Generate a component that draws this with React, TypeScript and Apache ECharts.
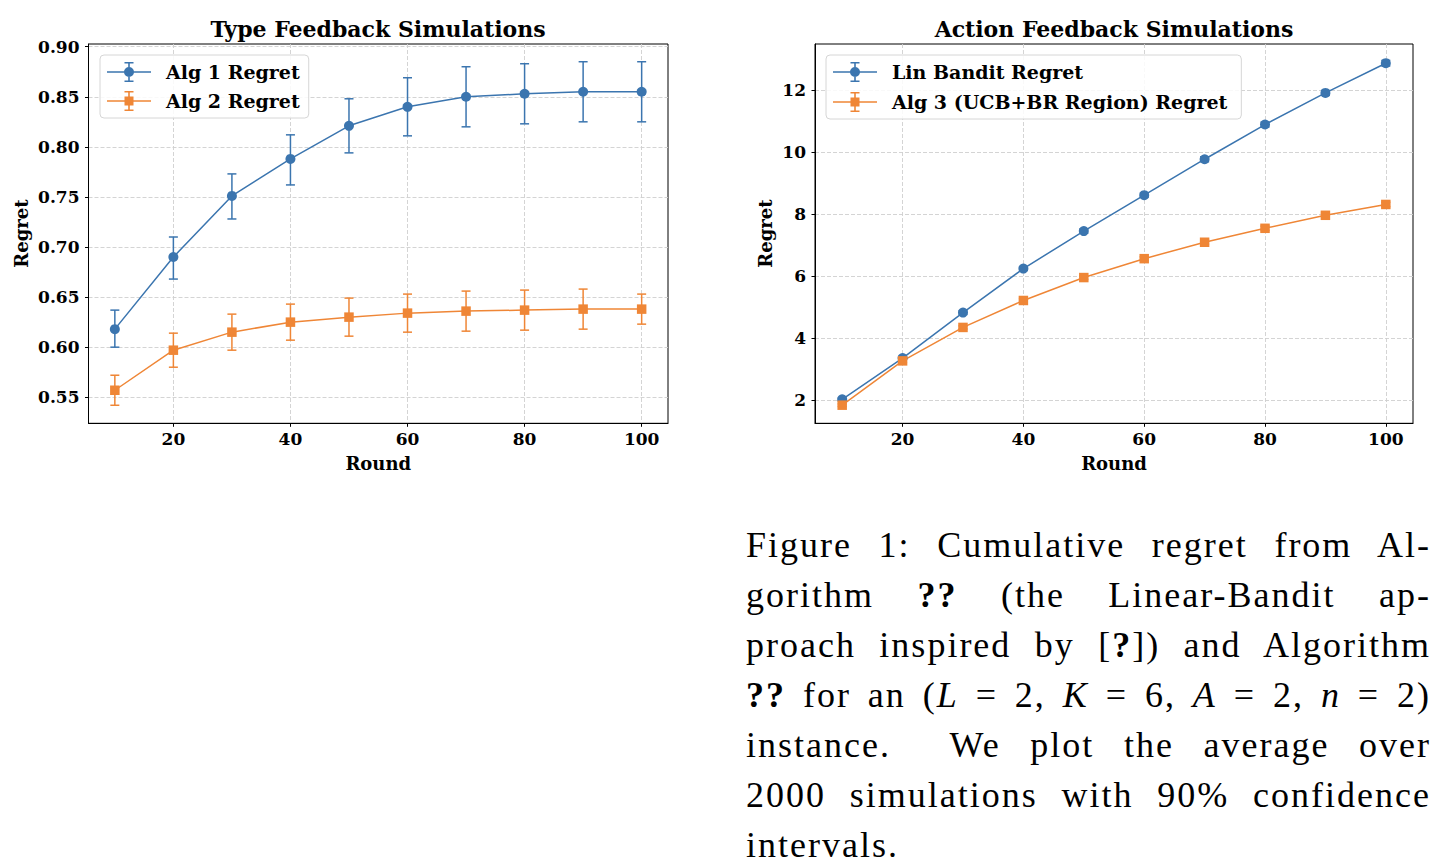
import React, { useEffect, useRef } from "react";
import * as echarts from "echarts";

// ---------- data ----------
const rounds = [10, 20, 30, 40, 50, 60, 70, 80, 90, 100];

const alg1Mean = [0.618, 0.69, 0.751, 0.788, 0.821, 0.84, 0.85, 0.853, 0.855, 0.855];
const alg1Low = [0.6, 0.668, 0.728, 0.762, 0.794, 0.811, 0.82, 0.823, 0.825, 0.825];
const alg1High = [0.637, 0.71, 0.773, 0.812, 0.848, 0.869, 0.88, 0.883, 0.885, 0.885];

const alg2Mean = [0.557, 0.597, 0.615, 0.625, 0.63, 0.634, 0.636, 0.637, 0.638, 0.638];
const alg2Low = [0.542, 0.58, 0.597, 0.607, 0.611, 0.615, 0.616, 0.617, 0.618, 0.623];
const alg2High = [0.572, 0.614, 0.633, 0.643, 0.649, 0.653, 0.656, 0.657, 0.658, 0.653];

const linMean = [2.03, 3.36, 4.83, 6.25, 7.46, 8.62, 9.78, 10.9, 11.92, 12.88];
const linErr = [0.04, 0.05, 0.06, 0.06, 0.07, 0.07, 0.08, 0.08, 0.08, 0.09];

const alg3Mean = [1.84, 3.27, 4.35, 5.22, 5.96, 6.57, 7.1, 7.55, 7.97, 8.32];
const alg3Err = [0.04, 0.05, 0.05, 0.06, 0.06, 0.06, 0.07, 0.07, 0.07, 0.07];

const xTicks = [20, 40, 60, 80, 100];
const leftYTicks = [0.55, 0.6, 0.65, 0.7, 0.75, 0.8, 0.85, 0.9];
const rightYTicks = [2, 4, 6, 8, 10, 12];

const titles = ["Type Feedback Simulations", "Action Feedback Simulations"];
const leftNames = ["Alg 1 Regret", "Alg 2 Regret"];
const rightNames = ["Lin Bandit Regret", "Alg 3 (UCB+BR Region) Regret"];

// ---------- style ----------
const FONT = "'DejaVu Serif', serif";
const BLUE = "#3b75af";
const ORANGE = "#ef8636";
const GRID_COLOR = "#cfcfcf";

function errIcon(marker: "circle" | "square") {
  const base =
    "M0,9.2 L44,9.2 L44,10.8 L0,10.8 Z " +
    "M21.2,0 L22.8,0 L22.8,20 L21.2,20 Z " +
    "M17.5,0 L26.5,0 L26.5,1.6 L17.5,1.6 Z " +
    "M17.5,18.4 L26.5,18.4 L26.5,20 L17.5,20 Z ";
  const m =
    marker === "circle"
      ? "M17,10 A5,5 0 1 1 27,10 A5,5 0 1 1 17,10 Z"
      : "M17.5,5.5 L26.5,5.5 L26.5,14.5 L17.5,14.5 Z";
  return "path://" + base + m;
}

const pts = (ys: number[]) => rounds.map((r, i) => [r, ys[i]]);
const bars = (lo: number[], hi: number[]) => rounds.map((r, i) => [r, lo[i], hi[i]]);
const barsErr = (mean: number[], err: number[]) =>
  rounds.map((r, i) => [r, mean[i] - err[i], mean[i] + err[i]]);

function lineSeries(name: string, idx: number, data: number[][], color: string, symbol: string, size: number) {
  return {
    type: "line",
    name,
    xAxisIndex: idx,
    yAxisIndex: idx,
    data,
    symbol,
    symbolSize: size,
    showAllSymbol: true,
    color,
    lineStyle: { width: 1.5, color },
    itemStyle: { color, borderWidth: 0 },
    emphasis: { disabled: true },
    z: 3,
  };
}

function errSeries(name: string, idx: number, data: number[][], color: string) {
  return {
    type: "custom",
    name,
    xAxisIndex: idx,
    yAxisIndex: idx,
    data,
    encode: { x: 0, y: [1, 2] },
    silent: true,
    z: 3,
    renderItem: (_params: any, api: any) => {
      const x = api.value(0);
      const a = api.coord([x, api.value(1)]);
      const b = api.coord([x, api.value(2)]);
      const w = 4.5;
      const st = () => ({ stroke: color, lineWidth: 1.5 });
      return {
        type: "group",
        children: [
          { type: "line", shape: { x1: a[0], y1: a[1], x2: b[0], y2: b[1] }, style: st() },
          { type: "line", shape: { x1: a[0] - w, y1: a[1], x2: a[0] + w, y2: a[1] }, style: st() },
          { type: "line", shape: { x1: b[0] - w, y1: b[1], x2: b[0] + w, y2: b[1] }, style: st() },
        ],
      };
    },
  };
}

const axisText = { fontFamily: FONT, fontWeight: "bold", fontSize: 17, color: "#000" };

function xAxis(idx: number) {
  return {
    type: "value",
    gridIndex: idx,
    min: 5.5,
    max: 104.5,
    name: "Round",
    nameLocation: "middle",
    nameGap: 31,
    nameTextStyle: { fontFamily: FONT, fontWeight: "bold", fontSize: 18, color: "#000" },
    axisLine: { show: true, lineStyle: { color: "#000", width: 1 } },
    axisTick: { show: true, length: 3.5, customValues: xTicks, lineStyle: { color: "#000", width: 1 } },
    axisLabel: { ...axisText, margin: 7, customValues: xTicks, formatter: (v: number) => String(v) },
    splitLine: { show: true, lineStyle: { color: GRID_COLOR, width: 0.9, type: [4, 2] } },
  };
}

function yAxis(idx: number, min: number, max: number, ticks: number[], splitNumber: number, gap: number, fmt: (v: number) => string) {
  return {
    type: "value",
    gridIndex: idx,
    min,
    max,
    splitNumber,
    name: "Regret",
    nameLocation: "middle",
    nameGap: gap,
    nameTextStyle: { fontFamily: FONT, fontWeight: "bold", fontSize: 18, color: "#000" },
    axisLine: { show: true, lineStyle: { color: "#000", width: 1 } },
    axisTick: { show: true, length: 3.5, customValues: ticks, lineStyle: { color: "#000", width: 1 } },
    axisLabel: { ...axisText, margin: 9, customValues: ticks, formatter: fmt },
    splitLine: { show: true, lineStyle: { color: GRID_COLOR, width: 0.9, type: [4, 2] } },
  };
}

function legend(left: number, names: string[], padRight: number, gap: number) {
  return {
    orient: "vertical",
    left,
    top: 55,
    padding: [7, padRight, 7, 7],
    itemWidth: 44,
    itemHeight: 20,
    itemGap: gap,
    selectedMode: false,
    backgroundColor: "rgba(255,255,255,0.85)",
    borderColor: "#d6d6d6",
    borderWidth: 1,
    borderRadius: 4,
    itemStyle: { borderWidth: 0 },
    textStyle: { fontFamily: FONT, fontWeight: "bold", fontSize: 19, color: "#000", padding: [0, 0, 0, 10] },
    data: [
      { name: names[0], icon: errIcon("circle") },
      { name: names[1], icon: errIcon("square") },
    ],
  };
}

const captionLines: React.ReactNode[] = [
  <>Figure 1: Cumulative regret from Al-</>,
  <>gorithm <b>??</b> (the Linear-Bandit ap-</>,
  <>proach inspired by [<b>?</b>]) and Algorithm</>,
  <>
    <b>??</b> for an (<i>L</i> = 2, <i>K</i> = 6, <i>A</i> = 2, <i>n</i> = 2)
  </>,
  <>instance.&nbsp; We plot the average over</>,
  <>2000 simulations with 90% confidence</>,
  <>intervals.</>,
];

export default function App() {
  const ref = useRef<HTMLDivElement>(null);

  useEffect(() => {
    if (!ref.current) return;
    const chart = echarts.init(ref.current, null, { renderer: "svg" });
    const titleStyle = { fontFamily: FONT, fontWeight: "bold", fontSize: 22, color: "#000" };
    chart.setOption({
      animation: false,
      backgroundColor: "#fff",
      textStyle: { fontFamily: FONT },
      title: [
        { text: titles[0], left: 378, top: 18, padding: 0, textAlign: "center", textStyle: titleStyle },
        { text: titles[1], left: 1114, top: 18, padding: 0, textAlign: "center", textStyle: titleStyle },
      ],
      grid: [
        { left: 88.5, top: 44, width: 579.5, height: 379.3, show: true, borderColor: "#000", borderWidth: 1, backgroundColor: "transparent" },
        { left: 815, top: 44, width: 598, height: 379.3, show: true, borderColor: "#000", borderWidth: 1, backgroundColor: "transparent" },
      ],
      xAxis: [xAxis(0), xAxis(1)],
      yAxis: [
        yAxis(0, 0.524, 0.9027, leftYTicks, 8, 58, (v: number) => v.toFixed(2)),
        yAxis(1, 1.255, 13.5, rightYTicks, 5, 41, (v: number) => String(v)),
      ],
      legend: [legend(100, leftNames, 9, 9), legend(826, rightNames, 14, 10)],
      series: [
        lineSeries(leftNames[0], 0, pts(alg1Mean), BLUE, "circle", 10),
        errSeries("Alg 1 CI", 0, bars(alg1Low, alg1High), BLUE),
        lineSeries(leftNames[1], 0, pts(alg2Mean), ORANGE, "rect", 9.5),
        errSeries("Alg 2 CI", 0, bars(alg2Low, alg2High), ORANGE),
        lineSeries(rightNames[0], 1, pts(linMean), BLUE, "circle", 10),
        errSeries("Lin Bandit CI", 1, barsErr(linMean, linErr), BLUE),
        lineSeries(rightNames[1], 1, pts(alg3Mean), ORANGE, "rect", 9.5),
        errSeries("Alg 3 CI", 1, barsErr(alg3Mean, alg3Err), ORANGE),
      ],
    });
    return () => chart.dispose();
  }, []);

  return (
    <div style={{ position: "absolute", left: 0, top: 0, width: 1433, height: 865, overflow: "hidden", background: "#fff" }}>
      <div ref={ref} style={{ position: "absolute", left: 0, top: 0, width: 1433, height: 480 }} />
      <div
        style={{
          position: "absolute",
          left: 746,
          top: 520,
          width: 685,
          fontFamily: "'Liberation Serif', 'Times New Roman', serif",
          fontSize: 36,
          lineHeight: "50px",
          letterSpacing: "2px",
          color: "#000",
        }}
      >
        {captionLines.map((ln, i) => (
          <div
            key={i}
            style={{
              height: 50,
              textAlign: i === captionLines.length - 1 ? "left" : "justify",
              textAlignLast: i === captionLines.length - 1 ? "left" : "justify",
            }}
          >
            {ln}
          </div>
        ))}
      </div>
    </div>
  );
}
